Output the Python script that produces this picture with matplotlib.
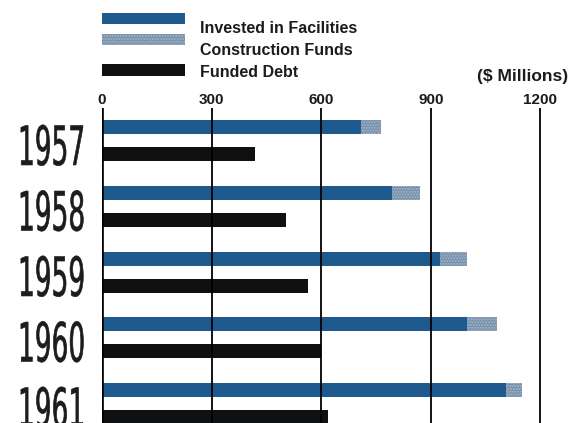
import matplotlib
matplotlib.use("Agg")
import matplotlib.pyplot as plt
from matplotlib.patches import Rectangle
from matplotlib.patheffects import AbstractPathEffect
from matplotlib.transforms import Affine2D, blended_transform_factory

# ---- data ($ millions) ----
years = ["1957", "1958", "1959", "1960", "1961"]
invested_in_facilities = [710, 795, 925, 1000, 1105]
construction_funds = [55, 75, 75, 80, 45]
funded_debt = [420, 505, 565, 600, 620]
tick_values = [0, 300, 600, 900, 1200]
tick_labels = ["0", "300", "600", "900", "1200"]

BLUE = "#1f5a8e"
LIGHT_BLUE = "#7590ab"
DARK = "#0f1012"
TEXT = "#1b1b1b"

W, H = 569, 423
fig = plt.figure(figsize=(W / 100, H / 100), dpi=100)
fig.patch.set_facecolor("white")


def fx(px):
    return px / W


def fy(py):
    return 1 - py / H


class CondensedFigures(AbstractPathEffect):
    """Stretch glyph outlines vertically about the baseline and thicken them a little."""

    def __init__(self, factor, stroke):
        super().__init__()
        self._factor = factor
        self._stroke = stroke

    def draw_path(self, renderer, gc, tpath, affine, rgbFace=None):
        gc0 = renderer.new_gc()
        gc0.copy_properties(gc)
        gc0.set_linewidth(self._stroke)
        gc0.set_foreground(rgbFace)
        gc0.set_joinstyle("round")
        renderer.draw_path(gc0, tpath, Affine2D().scale(1, self._factor) + affine, rgbFace)
        gc0.restore()


# ---- axes ----
left_px, top_px = 102, 108
px_per_unit = 0.3653
ax = fig.add_axes([fx(left_px), 0, 1 - fx(left_px), fy(top_px)])
ax.set_xlim(0, (W - left_px) / px_per_unit)

step_px = 65.5
first_center_px = 141
ax.set_ylim((H - first_center_px) / step_px, (top_px - first_center_px) / step_px)

for s in ax.spines.values():
    s.set_visible(False)
ax.set_facecolor("none")

pos = list(range(len(years)))
offset = 13.5 / step_px
bar_h = 14 / step_px
top_rows = [p - offset for p in pos]
bottom_rows = [p + offset for p in pos]

ax.barh(top_rows, invested_in_facilities, height=bar_h, color=BLUE, zorder=2)
ax.barh(top_rows, construction_funds, left=invested_in_facilities, height=bar_h,
        color=LIGHT_BLUE, edgecolor="#a7b8c9", hatch="......", linewidth=0, zorder=2)
ax.barh(bottom_rows, funded_debt, height=bar_h, color=DARK, zorder=2)

# vertical rules
for v in tick_values:
    ax.axvline(v, color="black", lw=1.9 if v == 0 else 1.3, zorder=3)

ax.xaxis.tick_top()
ax.set_xticks(tick_values)
ax.set_xticklabels(tick_labels, fontfamily="Liberation Sans", fontweight="bold",
                   fontsize=11, color=TEXT)
ax.tick_params(axis="x", length=0, pad=0.5)
ax.set_yticks([])

# year labels (tall condensed figures)
trans = blended_transform_factory(fig.transFigure, ax.transData)
for p, yr in zip(pos, years):
    ax.text(fx(85), p + 0.366, yr, transform=trans, ha="right", va="baseline",
            fontfamily="Liberation Sans Narrow", fontsize=19, color="#1c1c1c",
            path_effects=[CondensedFigures(2.05, 0.45)])

# legend
legend_rows = [
    (BLUE, None, 13.3, 24, "Invested in Facilities", 33),
    (LIGHT_BLUE, "......", 34, 45, "Construction Funds", 55),
    (DARK, None, 64.5, 76.5, "Funded Debt", 77),
]
for color, hatch, y0, y1, label, base in legend_rows:
    r = Rectangle((fx(102), fy(y1)), fx(185) - fx(102), fy(y0) - fy(y1),
                  transform=fig.transFigure, facecolor=color,
                  edgecolor="#a7b8c9" if hatch else color, hatch=hatch, linewidth=0)
    fig.add_artist(r)
    fig.text(fx(200), fy(base), label, ha="left", va="baseline",
             fontfamily="Liberation Sans", fontweight="bold", fontsize=11.5, color=TEXT)

fig.text(fx(568), fy(81), "($ Millions)", ha="right", va="baseline",
         fontfamily="Liberation Sans", fontweight="bold", fontsize=12.5, color=TEXT)

fig.savefig("out.png", dpi=100)
